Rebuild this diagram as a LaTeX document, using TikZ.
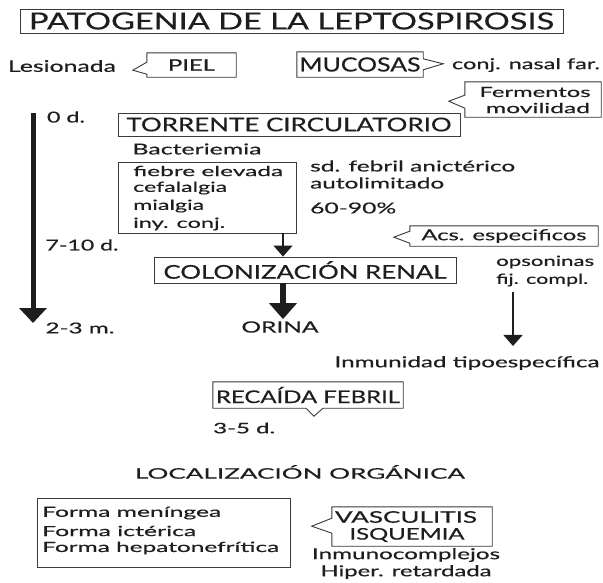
\documentclass[tikz,border=0pt]{standalone}
\usepackage{fontspec}
\setmainfont{Lato}[FakeBold=0.35]
\usepackage{graphicx}
\usetikzlibrary{arrows.meta,calc}
\newcommand{\fitw}[2]{\resizebox{#1pt}{\height}{#2}}
\definecolor{ink}{HTML}{1E1E1E}
\definecolor{edgec}{HTML}{3A3A3A}
\tikzset{
  txt/.style={inner sep=0pt, text=ink},
  bx/.style={draw=edgec, line width=0.9pt, inner sep=0pt, text=ink},
  cbx/.style={inner sep=0pt, text=ink},
  outline/.style={draw=edgec, line width=0.9pt, line join=miter},
  fs/.style={font=\fontsize{#1}{#1}\selectfont},
  thinarrow/.style={draw=ink, line width=1.3pt, -{Triangle[width=19pt,length=11pt]}},
  thickarrow/.style={draw=ink, line width=6pt, -{Triangle[width=27pt,length=16pt]}},
}
\begin{document}
\begin{tikzpicture}[x=1pt,y=-1pt]
\useasboundingbox[fill=white] (0,0) rectangle (603,582);

% title
\node[bx, fs=23.5, minimum width=543pt, minimum height=24pt] (title) at (291.5,21) {\fitw{525}{PATOGENIA DE LA LEPTOSPIROSIS}};

% row 2
\node[txt, fs=16] (les) at (62,66) {\fitw{108}{Lesionada}};
\node[cbx, fs=16, minimum width=89pt, minimum height=24pt] (piel) at (191.5,65) {\fitw{47}{PIEL}};
\draw[outline] (piel.north west) -- (piel.north east) -- (piel.south east) -- (piel.south west) -- ++(0,-3) -- ++(-14,-4) -- ++(14,-8) -- cycle;
\node[cbx, fs=19.5, minimum width=126pt, minimum height=25pt] (muc) at (360,64.5) {\fitw{121}{MUCOSAS}};
\draw[outline] (muc.north west) -- (muc.north east) -- ++(0,7) -- ++(20,5) -- ++(-20,6) -- (muc.south east) -- (muc.south west) -- cycle;
\node[txt, fs=15] (conj) at (526,65) {\fitw{148}{conj. nasal far.}};

% fermentos
\node[cbx, minimum width=136pt, minimum height=35pt] (ferm) at (533,99.5) {};
\draw[outline] (ferm.north west) -- (ferm.north east) -- (ferm.south east) -- (ferm.south west) -- ++(0,-9) -- ++(-16,-7) -- ++(16,-6) -- cycle;
\node[txt, fs=14] (ferm1) at (535,92) {\fitw{111}{Fermentos}};
\node[txt, fs=14] (ferm2) at (538,108) {\fitw{104}{movilidad}};

% timeline
\coordinate (t0) at (33,113);
\coordinate (t1) at (33,323);
\draw[draw=ink, line width=5pt, -{Triangle[width=27pt,length=15pt]}] (t0) -- (t1);
\node[txt, fs=15] (d0) at (66,117) {\fitw{38}{0 d.}};
\node[txt, fs=15] (d7) at (82,245) {\fitw{73}{7-10 d.}};
\node[txt, fs=15] (d2) at (80,328) {\fitw{69}{2-3 m.}};

% torrente
\node[bx, fs=19, minimum width=342pt, minimum height=23pt] (torr) at (289,124.5) {\fitw{325}{TORRENTE CIRCULATORIO}};
\node[txt, fs=15] (bact) at (197,149) {\fitw{129}{Bacteriemia}};

% fiebre box
\node[bx, minimum width=178pt, minimum height=71pt] (fieb) at (207,197.5) {};
\node[txt, fs=14, anchor=west] (f1) at (133,171) {\fitw{150}{fiebre elevada}};
\node[txt, fs=14, anchor=west] (f2) at (133,188) {\fitw{94}{cefalalgia}};
\node[txt, fs=14, anchor=west] (f3) at (133,206) {\fitw{71}{mialgia}};
\node[txt, fs=14, anchor=west] (f4) at (133,224) {\fitw{92}{iny. conj.}};

\node[txt, fs=15, anchor=west] (sd1) at (310,166) {\fitw{205}{sd. febril anictérico}};
\node[txt, fs=15, anchor=west] (sd2) at (310,183) {\fitw{134}{autolimitado}};
\node[txt, fs=15, anchor=west] (sd3) at (310,208) {\fitw{86}{60-90\%}};

% acs
\node[cbx, fs=15, minimum width=188pt, minimum height=20pt] (acs) at (504,236) {\fitw{165}{Acs. especificos}};
\draw[outline] (acs.north west) -- (acs.north east) -- (acs.south east) -- (acs.south west) -- ++(0,-3) -- ++(-16,-6) -- ++(16,-6) -- cycle;
\node[txt, fs=14, anchor=west] (ops) at (496,262) {\fitw{98}{opsoninas}};
\node[txt, fs=14, anchor=west] (fij) at (496,280) {\fitw{92}{fij. compl.}};

% colonizacion
\node[bx, fs=19, minimum width=302pt, minimum height=26pt] (colon) at (305,270) {\fitw{283}{COLONIZACIÓN RENAL}};
\node[txt, fs=15.5] (orina) at (280,327) {\fitw{77}{ORINA}};

\coordinate (ax1) at (283,0);
\draw[thinarrow] (fieb.south -| ax1) -- (colon.north -| ax1);
\draw[thickarrow, shorten >=2pt] (colon.south -| ax1) -- (orina.north -| ax1);

\node[txt, fs=15] (inm) at (467,363) {\fitw{265}{Inmunidad tipoespecífica}};
\coordinate (ax2) at (513,0);
\draw[thinarrow, shorten <=5pt, shorten >=10pt] (fij.south -| ax2) -- (inm.north -| ax2);

% recaida
\node[cbx, fs=17.5, minimum width=190pt, minimum height=26pt] (rec) at (308,395) {\fitw{184}{RECAÍDA FEBRIL}};
\draw[outline] (rec.north west) -- (rec.north east) -- (rec.south east) -- ($(rec.south)+(15,0)$) -- ++(-9,8) -- ++(-8,-8) -- (rec.south west) -- cycle;
\node[txt, fs=14.5, anchor=west] (d35) at (213,428) {\fitw{62}{3-5 d.}};

\node[txt, fs=14.5] (loc) at (300,472) {\fitw{330}{LOCALIZACIÓN ORGÁNICA}};

% forma box
\node[bx, minimum width=253pt, minimum height=69pt] (forma) at (163.5,532.5) {};
\node[txt, fs=14, anchor=west] (fm1) at (42,513) {\fitw{179}{Forma meníngea}};
\node[txt, fs=14, anchor=west] (fm2) at (42,531) {\fitw{154}{Forma ictérica}};
\node[txt, fs=14, anchor=west] (fm3) at (42,548) {\fitw{237}{Forma hepatonefrítica}};

% vasculitis
\node[cbx, minimum width=160pt, minimum height=39pt] (vas) at (412,526.5) {};
\draw[outline] (vas.north west) -- (vas.north east) -- (vas.south east) -- (vas.south west) -- ++(0,-13) -- ++(-20,-7) -- ++(20,-8) -- cycle;
\node[txt, fs=16] (v1) at (406,517) {\fitw{142}{VASCULITIS}};
\node[txt, fs=16] (v2) at (407,535) {\fitw{115}{ISQUEMIA}};
\node[txt, fs=15] (inc) at (406,555) {\fitw{188}{Inmunocomplejos}};
\node[txt, fs=15] (hip) at (406,572) {\fitw{171}{Hiper. retardada}};
\end{tikzpicture}
\end{document}
